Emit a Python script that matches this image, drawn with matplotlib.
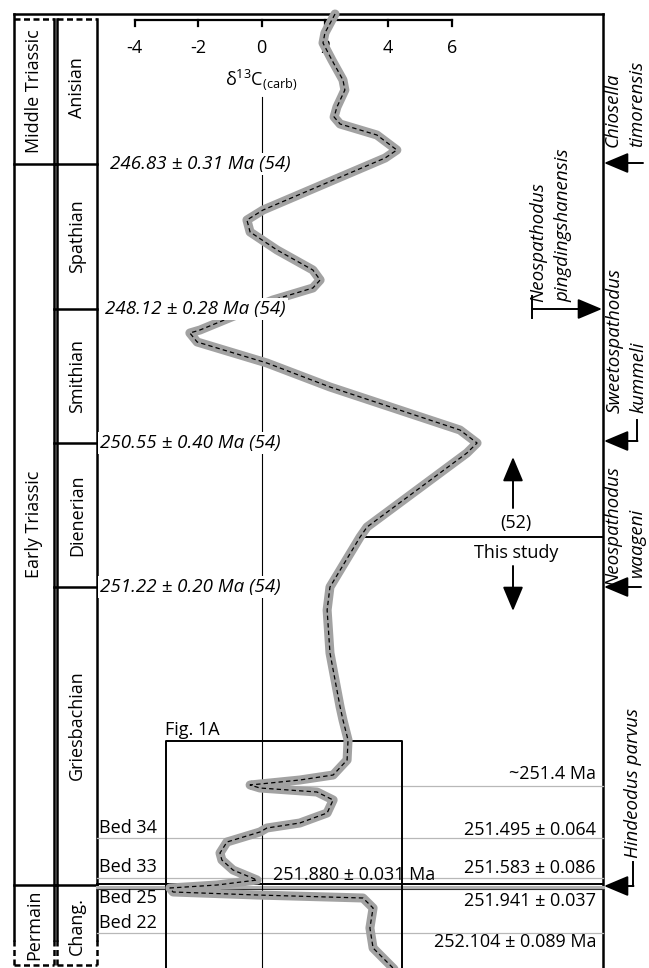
import matplotlib
matplotlib.use('Agg')
import matplotlib.pyplot as plt

plt.rcParams['font.family'] = ['Open Sans', 'DejaVu Sans']
plt.rcParams['mathtext.fontset'] = 'custom'
plt.rcParams['mathtext.rm'] = 'Open Sans'
plt.rcParams['mathtext.it'] = 'Open Sans:italic'

# curva de d13C (permil), lida da figura de cima para baixo
# level = posicao estratigrafica (linha da figura, 0 = topo)
d13c = [2.32, 2.00, 1.94, 2.22, 2.57, 2.63, 2.38, 2.29, 2.48, 3.64, 4.27, 3.90,
        0.05, -0.46, -0.36, 0.49, 1.62, 1.85, 1.62, 0.36, -1.94, -2.26, -2.03,
        0.17, 2.16, 6.26, 6.80, 6.48, 3.33, 3.11, 2.16, 2.07, 2.16, 2.48, 2.57,
        2.73, 2.70, 2.26, 1.21, -0.36, -0.05, 1.75, 2.26, 2.07, 1.21, 0.17,
        -0.05, -1.09, -1.31, -1.25, -0.90, -0.14, -1.40, -2.89, -2.79, -0.14,
        3.20, 3.52, 3.42, 3.52, 4.21]
level = [14, 33, 43, 60, 80, 90, 107, 117, 124, 135, 150, 158,
         210, 220, 232, 250, 270, 280, 288, 300, 330, 333, 342,
         363, 387, 430, 443, 453, 527, 537, 587, 610, 653, 707, 720,
         740, 760, 775, 780, 785, 788, 792, 800, 813, 823, 828,
         832, 842, 853, 860, 870, 880, 885, 888, 892, 895,
         898, 908, 928, 948, 970]

ticks = [-4, -2, 0, 2, 4, 6]

periods = ['Middle Triassic', 'Early Triassic', 'Permain']
period_bounds = [19, 164, 885, 965]
stages = ['Anisian', 'Spathian', 'Smithian', 'Dienerian', 'Griesbachian', 'Chang.']
stage_bounds = [19, 164, 309, 443, 587, 885, 965]

ash_ages = ['246.83 ± 0.31 Ma (54)', '248.12 ± 0.28 Ma (54)',
            '250.55 ± 0.40 Ma (54)', '251.22 ± 0.20 Ma (54)']
ash_levels = [164, 309, 443, 587]

zircon_ages = ['~251.4 Ma', '251.495 ± 0.064', '251.583 ± 0.086',
               '251.941 ± 0.037', '252.104 ± 0.089 Ma']
zircon_label_y = [774, 830, 868, 901, 942]

beds = ['Bed 34', 'Bed 33', 'Bed 25', 'Bed 22']
bed_label_y = [828, 867, 898, 923]
gray_levels = [786, 838, 878, 933]

boundary_level = 885
study_level = 537

W, H = 649, 968
fig = plt.figure(figsize=(W / 100, H / 100), dpi=100)

# eixo de layout em pixels
ax = fig.add_axes([0, 0, 1, 1])
ax.set_xlim(0, W)
ax.set_ylim(H, 0)
ax.axis('off')

# eixo da curva (x em d13C)
x0, escala = 261.5, 31.7
axc = fig.add_axes([0, 0, 1, 1], facecolor='none')
axc.set_xlim((0 - x0) / escala, (W - x0) / escala)
axc.set_ylim(H, 0)
axc.axis('off')

# eixo de cima para os textos com fundo branco
axt = fig.add_axes([0, 0, 1, 1], facecolor='none')
axt.set_xlim(0, W)
axt.set_ylim(H, 0)
axt.axis('off')

lw = 1.8
dash = (0, (2.4, 1.4))

# moldura
ax.plot([14, 603], [14, 14], color='k', lw=lw)
ax.plot([603, 603], [14, H], color='k', lw=lw)
ax.plot([14, 14], [14, 940], color='k', lw=lw)
for xc in [54, 57, 97]:
    ax.plot([xc, xc], [period_bounds[0], 940], color='k', lw=lw)
for xc in [14, 54, 57, 97]:
    ax.plot([xc, xc], [940, period_bounds[-1]], color='k', lw=lw, ls=dash)
for xa, xb in [(14, 54), (57, 97)]:
    ax.plot([xa, xb], [period_bounds[0]] * 2, color='k', lw=lw, ls=dash)
    ax.plot([xa, xb], [period_bounds[-1]] * 2, color='k', lw=lw, ls=dash)

# colunas de periodo e andar
for b in period_bounds[1:-1]:
    ax.plot([14, 57], [b, b], color='k', lw=lw)
for b in stage_bounds[1:-1]:
    ax.plot([54, 97], [b, b], color='k', lw=lw)
for i, nome in enumerate(periods):
    yc = (period_bounds[i] + period_bounds[i + 1]) / 2
    ax.text(34, yc, nome, rotation=90, rotation_mode='anchor', ha='center',
            va='center', fontsize=13)
stage_y = [88, 236, 376, 515, 725, 926]
for nome, yc in zip(stages, stage_y):
    ax.text(77, yc, nome, rotation=90, rotation_mode='anchor', ha='center',
            va='center', fontsize=13)

# limite Permiano-Triassico
ax.plot([97, 603], [boundary_level - 1.5] * 2, color='k', lw=1.4)
ax.plot([97, 603], [boundary_level + 1.5] * 2, color='#b0b0b0', lw=2.2)
ax.plot([97, 603], [boundary_level + 4] * 2, color='#333333', lw=0.8)

# linhas cinzas dos leitos
for gl, xs in zip(gray_levels, [250, 97, 97, 97]):
    ax.plot([xs, 603], [gl, gl], color='#b8b8b8', lw=0.9)

for nome, yc in zip(beds, bed_label_y):
    ax.text(99, yc, nome, ha='left', va='center', fontsize=13)
for nome, yc in zip(zircon_ages, zircon_label_y):
    ax.text(596, yc, nome, ha='right', va='center', fontsize=13)
ax.text(273, 875, '251.880 ± 0.031 Ma', ha='left', va='center', fontsize=13)

# caixa Fig. 1A
ax.plot([166, 166, 402, 402], [H, 741, 741, H], color='k', lw=1.4)
ax.text(165, 730, 'Fig. 1A', ha='left', va='center', fontsize=13)

# "This study"
ax.plot([365, 603], [study_level] * 2, color='k', lw=1.4)
ax.text(516, 523, '(52)', ha='center', va='center', fontsize=13)
ax.text(516, 553, 'This study', ha='center', va='center', fontsize=13)
seta = dict(arrowstyle='-|>,head_length=1.0,head_width=0.42', color='k',
            lw=1.4, mutation_scale=15, shrinkA=0, shrinkB=0)
ax.annotate('', xy=(513, 457), xytext=(513, 508), arrowprops=seta)
ax.annotate('', xy=(513, 611), xytext=(513, 566), arrowprops=seta)

# zonas de conodontes
sp = dict(rotation=90, rotation_mode='anchor', ha='left', va='center',
          fontsize=13.5, style='italic')
ax.text(613, 147, 'Chiosella', **sp)
ax.text(637, 147, 'timorensis', **sp)
ax.annotate('', xy=(604, 163), xytext=(643, 163), arrowprops=seta)

ax.text(538, 302, 'Neospathodus', **sp)
ax.text(563, 302, 'pingdingshanensis', **sp)
ax.plot([532, 532], [296, 318], color='k', lw=1.4)
ax.annotate('', xy=(602, 309), xytext=(532, 309), arrowprops=seta)

ax.text(615, 413, 'Sweetospathodus', **sp)
ax.text(638, 413, 'kummeli', **sp)
ax.plot([637, 637], [420, 441], color='k', lw=1.4)
ax.annotate('', xy=(604, 441), xytext=(637.5, 441), arrowprops=seta)

ax.text(613, 586, 'Neospathodus', **sp)
ax.text(637, 577, 'waageni', **sp)
ax.annotate('', xy=(604, 587), xytext=(641, 587), arrowprops=seta)

ax.text(633, 858, 'Hindeodus parvus', **sp)
ax.plot([633, 633], [862, 886], color='k', lw=1.4)
ax.annotate('', xy=(604, 886), xytext=(633.5, 886), arrowprops=seta)

# eixo de d13C no topo
axc.plot([ticks[0], ticks[-1]], [20, 20], color='k', lw=1.6)
for t in ticks:
    axc.plot([t, t], [20, 26], color='k', lw=1.6)
    axc.text(t, 48, f'{t}', ha='center', va='center', fontsize=13)
axc.text(0, 80, 'δ$^{\\mathrm{13}}$C$_{\\mathrm{(carb)}}$', ha='center',
         va='center', fontsize=13)
axc.plot([0, 0], [97, H], color='k', lw=0.8, zorder=2)

# curva
axc.plot(d13c, level, color='#a2a2a2', lw=6.5, solid_joinstyle='round',
         solid_capstyle='round', zorder=3)
axc.plot(d13c, level, color='k', lw=0.9, ls=(0, (3.5, 2.5)), zorder=4)

# idades de cinzas com fundo branco
ash_x = [110, 105, 100, 100]
for txt, yl, xl in zip(ash_ages, ash_levels, ash_x):
    axt.text(xl, yl, txt, ha='left', va='center', fontsize=13.5, style='italic',
             bbox=dict(facecolor='white', edgecolor='none', pad=1.5))

plt.savefig('out.png', dpi=100)
plt.close()
